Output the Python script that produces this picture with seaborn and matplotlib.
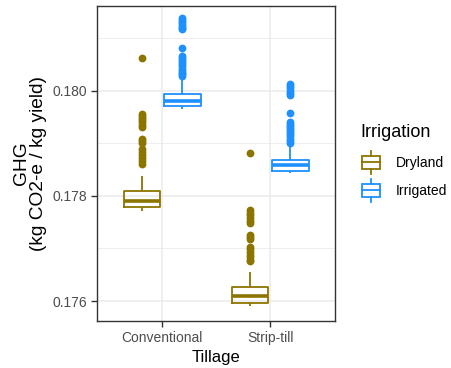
import numpy as np
import pandas as pd
import matplotlib
matplotlib.use("Agg")
import matplotlib.pyplot as plt
import seaborn as sns
from matplotlib.legend_handler import HandlerBase
from matplotlib.patches import Rectangle, Patch
from matplotlib.lines import Line2D

# ---- data ----
tillage = ["Conventional", "Strip-till"]
irrigation = ["Dryland", "Irrigated"]
colors = {"Dryland": "#8B7500", "Irrigated": "#1E90FF"}

# box summaries: [whisker low, Q1, median, Q3, whisker high]
box_dry_conv = [0.17771, 0.17778, 0.17790, 0.17809, 0.17837]
box_irr_conv = [0.17966, 0.17971, 0.17981, 0.17993, 0.18020]
box_dry_strip = [0.17590, 0.17596, 0.17609, 0.17627, 0.17655]
box_irr_strip = [0.17843, 0.17847, 0.17859, 0.17868, 0.17897]

# outlier points
out_dry_conv = [0.18063, 0.17956, 0.17952, 0.17948, 0.17944, 0.17940, 0.17935,
                0.17930, 0.17908, 0.17904, 0.17900, 0.17889, 0.17884, 0.17878,
                0.17872, 0.17866, 0.17861]
out_irr_conv = [0.18138, 0.18135, 0.18131, 0.18127, 0.18123, 0.18119, 0.18117,
                0.18082, 0.18066, 0.18062, 0.18058, 0.18054, 0.18050, 0.18046,
                0.18042, 0.18038, 0.18034, 0.18031, 0.18028]
out_dry_strip = [0.17881, 0.17773, 0.17768, 0.17763, 0.17758, 0.17753, 0.17748,
                 0.17725, 0.17721, 0.17718, 0.17703, 0.17698, 0.17693, 0.17688,
                 0.17683, 0.17678, 0.17676]
out_irr_strip = [0.18013, 0.18009, 0.18005, 0.18000, 0.17996, 0.17992, 0.17957,
                 0.17941, 0.17937, 0.17933, 0.17929, 0.17925, 0.17921, 0.17917,
                 0.17913, 0.17909, 0.17905, 0.17901]

# weight of each quartile value when rebuilding the sample
N_REP = 50

groups = [
    ("Conventional", "Dryland", box_dry_conv, out_dry_conv),
    ("Conventional", "Irrigated", box_irr_conv, out_irr_conv),
    ("Strip-till", "Dryland", box_dry_strip, out_dry_strip),
    ("Strip-till", "Irrigated", box_irr_strip, out_irr_strip),
]
frames = []
for t, i, box, out in groups:
    vals = ([box[0]] + [box[1]] * N_REP + [box[2]] * N_REP + [box[3]] * N_REP
            + [box[4]] + list(out))
    frames.append(pd.DataFrame({"Tillage": t, "Irrigation": i, "GHG": vals}))
df = pd.concat(frames, ignore_index=True)

# ---- plot ----
plt.rcParams["font.family"] = ["Liberation Sans", "DejaVu Sans"]
fig = plt.figure(figsize=(4.51, 3.68), dpi=100)
ax = fig.add_axes([0.2157, 0.1277, 0.5271, 0.8560])

sns.boxplot(data=df, x="Tillage", y="GHG", hue="Irrigation",
            order=tillage, hue_order=irrigation, palette=colors,
            fill=False, width=0.75, gap=0.1, linewidth=1.3, showcaps=False,
            flierprops=dict(marker="o", markersize=4.6),
            medianprops=dict(linewidth=2.6),
            legend=False, ax=ax)

for ln in ax.lines:
    if ln.get_marker() == "o":
        ln.set_markerfacecolor(ln.get_markeredgecolor())

ax.set_xlim(-0.6, 1.6)
ax.set_ylim(0.17562, 0.18161)
ax.set_yticks([0.176, 0.178, 0.180])
ax.set_yticklabels(["0.176", "0.178", "0.180"])
ax.set_yticks([0.177, 0.179, 0.181], minor=True)
ax.grid(which="major", color="#EBEBEB", linewidth=1.1)
ax.grid(which="minor", axis="y", color="#EBEBEB", linewidth=0.6)
ax.set_axisbelow(True)
for s in ax.spines.values():
    s.set_color("#333333")
    s.set_linewidth(1.0)
ax.tick_params(which="major", color="#333333", length=4, width=1,
               labelcolor="#4D4D4D", labelsize=10)
ax.tick_params(which="minor", length=0)

ax.set_xlabel("Tillage", fontsize=12, labelpad=3.5, color="black")
ax.set_ylabel("GHG\n(kg CO2-e / kg yield)", fontsize=13.8, labelpad=4,
              color="black", linespacing=0.95)


class BoxHandler(HandlerBase):
    def create_artists(self, legend, orig_handle, xdescent, ydescent,
                       width, height, fontsize, trans):
        c = orig_handle.get_edgecolor()
        x0, y0 = -xdescent, -ydescent
        cx = x0 + width / 2
        bw = width * 0.9
        b0 = y0 + height * 0.16
        b1 = y0 + height * 0.84
        rect = Rectangle((cx - bw / 2, b0), bw, b1 - b0, fill=False,
                         edgecolor=c, linewidth=1.3, transform=trans)
        med = Line2D([cx - bw / 2, cx + bw / 2], [(b0 + b1) / 2] * 2,
                     color=c, linewidth=1.3, transform=trans)
        w1 = Line2D([cx, cx], [y0 - height * 0.08, b0], color=c,
                    linewidth=1.3, transform=trans)
        w2 = Line2D([cx, cx], [b1, y0 + height * 1.08], color=c,
                    linewidth=1.3, transform=trans)
        return [rect, med, w1, w2]


handles = [Patch(edgecolor=colors[k], facecolor="white") for k in irrigation]
leg = ax.legend(handles, irrigation, title="Irrigation", frameon=False,
                loc="center left", bbox_to_anchor=(1.055, 0.505),
                handler_map={Patch: BoxHandler()},
                fontsize=10, title_fontsize=13,
                handlelength=1.5, handleheight=1.8, handletextpad=1.05,
                labelspacing=0.6)
leg._legend_box.align = "left"
leg._legend_box.sep = 8.5

fig.savefig("out.png", dpi=100)
